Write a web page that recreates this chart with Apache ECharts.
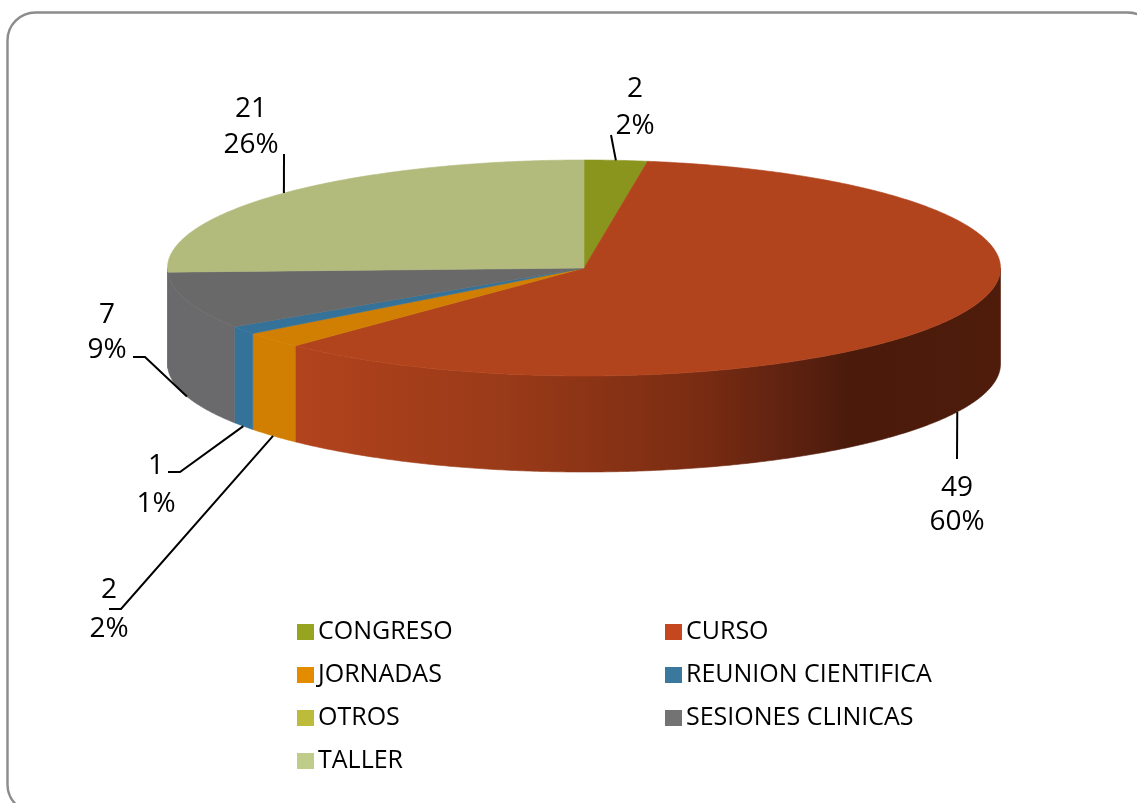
<!DOCTYPE html>
<html>
<head>
    <meta charset="utf-8">
    <title>Charts</title>
    <script src="https://cdn.jsdelivr.net/npm/echarts@6/dist/echarts.min.js"></script>
    <style>
        html, body { margin: 0; padding: 0; background: #fff; }
    </style>
</head>
<body>
    <div id="main" style="width: 1137px;height: 803px;"></div>
    <script type="text/javascript">
var categories = ['CONGRESO', 'CURSO', 'JORNADAS', 'REUNION CIENTIFICA', 'OTROS', 'SESIONES CLINICAS', 'TALLER'];
var counts = [2, 49, 2, 1, 0, 7, 21];

var legendColors = ['#95A51F', '#C4471F', '#E38C00', '#3A789E', '#BDBB3A', '#737373', '#C0CC8A'];
var faceColors = ['#8A951E', '#B2441D', '#D07F02', '#347299', '#A8A635', '#696969', '#B2BA7C'];
var wallColors = ['#6F7818', '#B2441D', '#D07F02', '#347299', '#8A8828', '#6A6A6C', '#6A6A6C'];

// pie geometry, the top face is an ellipse
var cx = 584, cy = 268, rx = 416.5, ry = 108, depth = 96;
var fontName = '"Open Sans", sans-serif';

// where each label sits: leader bend points, then the two text lines
var labelPlaces = [
    { path: [[611, 135]], value: [635, 89], percent: [635, 126] },
    { path: [[957, 459]], value: [957, 488], percent: [957, 522] },
    { path: [[121, 609], [109, 609]], value: [109, 590], percent: [109, 629] },
    { path: [[180, 472], [168, 472]], value: [156, 466], percent: [156, 504] },
    null,
    { path: [[145, 357], [133, 357]], value: [107, 315], percent: [107, 350] },
    { path: [[284, 154]], value: [251, 109], percent: [251, 145] }
];

var total = counts.reduce(function (a, b) { return a + b; }, 0);

function ellipsePoint(deg, drop) {
    var r = deg * Math.PI / 180;
    return [cx + rx * Math.sin(r), cy - ry * Math.cos(r) + (drop || 0)];
}

function arcPoints(from, to, drop) {
    var pts = [];
    var steps = Math.max(1, Math.ceil(Math.abs(to - from) * 2));
    for (var i = 0; i <= steps; i++) {
        pts.push(ellipsePoint(from + (to - from) * i / steps, drop));
    }
    return pts;
}

function wallFill(index) {
    // CURSO wall goes dark towards the right, the others are flat
    if (index !== 1) {
        return wallColors[index];
    }
    return {
        type: 'linear', x: 295, y: 0, x2: 1001, y2: 0, global: true,
        colorStops: [
            { offset: 0, color: '#B2441D' },
            { offset: 0.12, color: '#A83F1B' },
            { offset: 0.3, color: '#993A18' },
            { offset: 0.57, color: '#7A2C12' },
            { offset: 0.71, color: '#5C2110' },
            { offset: 0.79, color: '#4A1A0A' },
            { offset: 1, color: '#4F1C0B' }
        ]
    };
}

function makeRenderItem(index) {
    var before = 0;
    for (var i = 0; i < index; i++) {
        before += counts[i];
    }
    var start = before / total * 360;
    var end = (before + counts[index]) / total * 360;
    var mid = (start + end) / 2;

    return function (params, api) {
        var children = [];
        if (api.value(0) === 0) {
            return { type: 'group', children: children };
        }
        // only the part between 90 and 270 degrees faces the viewer
        var wallFrom = Math.max(start, 90), wallTo = Math.min(end, 270);
        if (wallFrom < wallTo) {
            var fill = wallFill(index);
            children.push({
                type: 'polygon',
                shape: { points: arcPoints(wallFrom, wallTo, 0).concat(arcPoints(wallTo, wallFrom, depth)) },
                style: { fill: fill, stroke: fill, lineWidth: 0.6 }
            });
        }
        children.push({
            type: 'polygon',
            shape: { points: [[cx, cy]].concat(arcPoints(start, end, 0)) },
            style: { fill: faceColors[index], stroke: faceColors[index], lineWidth: 0.6 }
        });

        var place = labelPlaces[index];
        var front = mid > 90 && mid < 270;
        var anchor = ellipsePoint(mid, front ? depth : 0);
        children.push({
            type: 'polyline',
            shape: { points: [anchor].concat(place.path) },
            style: { stroke: '#000', lineWidth: 2, fill: null },
            z2: 10
        });
        children.push({
            type: 'text',
            z2: 10,
            style: {
                text: String(api.value(0)), x: place.value[0], y: place.value[1],
                align: 'center', verticalAlign: 'middle',
                fontSize: 28, fontFamily: fontName, fill: '#000'
            }
        });
        children.push({
            type: 'text',
            z2: 10,
            style: {
                text: Math.round(api.value(0) / total * 100) + '%', x: place.percent[0], y: place.percent[1],
                align: 'center', verticalAlign: 'middle',
                fontSize: 28, fontFamily: fontName, fill: '#000'
            }
        });
        return { type: 'group', children: children };
    };
}

function legendColumn(names, left) {
    return {
        orient: 'vertical',
        left: left,
        top: 618,
        itemGap: 15,
        itemWidth: 17,
        itemHeight: 16,
        icon: 'rect',
        selectedMode: false,
        padding: 0,
        data: names,
        textStyle: {
            color: '#000', fontSize: 25, fontFamily: fontName, padding: [0, 0, 0, -1], lineHeight: 28
        }
    };
}

var myChart = echarts.init(document.getElementById('main'), null, { renderer: 'canvas' });
myChart.setOption({
    animation: false,
    backgroundColor: '#fff',
    tooltip: { show: false },
    legend: [
        legendColumn([categories[0], categories[2], categories[4], categories[6]], 297),
        legendColumn([categories[1], categories[3], categories[5]], 665)
    ],
    graphic: [{
        type: 'rect',
        silent: true,
        z: -1,
        shape: { x: 7.5, y: 12.5, width: 1148, height: 800, r: 28 },
        style: { fill: null, stroke: '#8C8C8C', lineWidth: 2.4 }
    }],
    series: categories.map(function (name, i) {
        return {
            name: name,
            type: 'custom',
            coordinateSystem: 'none',
            silent: true,
            itemStyle: { color: legendColors[i] },
            data: [[counts[i]]],
            renderItem: makeRenderItem(i)
        };
    })
});
    </script>
</body>
</html>
